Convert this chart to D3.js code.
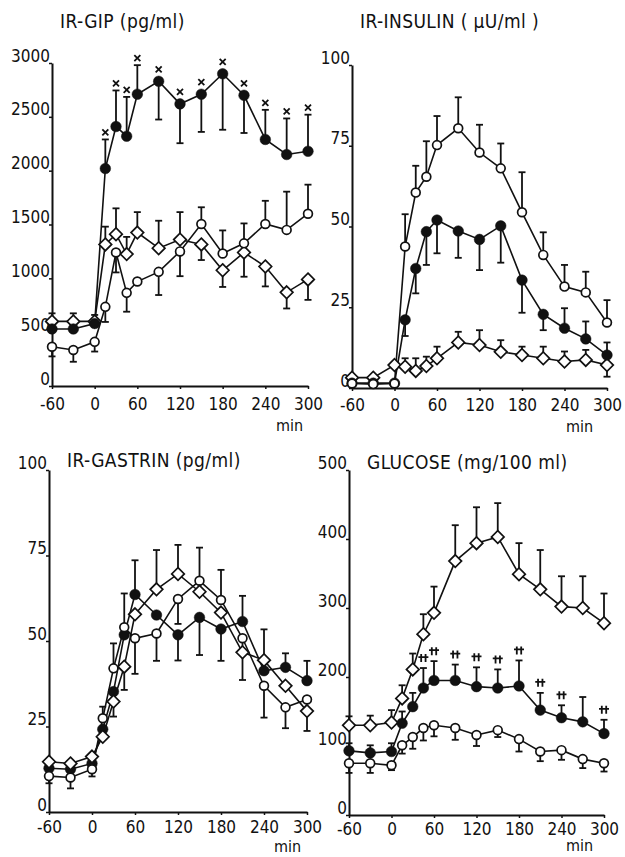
<!DOCTYPE html>
<html>
<head>
<meta charset="utf-8">
<script src="https://cdn.jsdelivr.net/npm/d3@7"></script>
<style>
  body { margin: 0; background: #fff; }
  svg text {
    font-family: "DejaVu Sans Condensed", "DejaVu Sans", sans-serif;
    fill: #111;
  }
</style>
</head>
<body>
<div id="wrapper"></div>
<script>
// sampling times (min)
const times = [-60, -30, 0, 15, 30, 45, 60, 90, 120, 150, 180, 210, 240, 270, 300];
const xTicks = [-60, 0, 60, 120, 180, 240, 300];

// IR-GIP (pg/ml); err > 0 = bar drawn upward, err < 0 = bar drawn downward
const gipFilled = [530, 530, 580, 2020, 2410, 2320, 2710, 2830, 2620, 2710, 2900, 2700, 2290, 2150, 2180];
const gipFilledErr = [0, 0, 0, 270, 335, 365, 270, -355, -365, -350, -520, -350, 275, 335, 340];
const gipOpen = [365, 335, 410, 735, 1240, 865, 970, 1060, 1250, 1505, 1230, 1325, 1505, 1450, 1600];
const gipOpenErr = [-90, -110, -90, -140, -185, -175, 0, -215, -230, 155, 215, 185, 215, 355, 270];
const gipDiamond = [600, 600, 600, 1315, 1410, 1225, 1425, 1280, 1360, 1315, 1075, 1240, 1110, 870, 990];
const gipDiamondErr = [75, 75, 60, 165, 240, 160, 190, 255, 255, -145, -155, -225, -185, -150, -190];
const gipSignif = [15, 30, 45, 60, 90, 120, 150, 180, 210, 240, 270, 300];
const gipTicks = [0, 500, 1000, 1500, 2000, 2500, 3000];

// IR-INSULIN (µU/ml)
const insOpen = [1.4, 1.2, 1.4, 43.8, 60.5, 65.4, 75.2, 80.4, 72.9, 68.0, 54.4, 41.2, 31.4, 29.6, 20.3];
const insOpenErr = [0, 0, 0, 10, 8.3, 11, 9, 9.6, 8.6, 7.7, 12.4, 7, 6.7, 6.4, 6.9];
const insFilled = [1.5, 1.5, 1.5, 21.1, 37, 48.4, 52, 48.6, 46, 50.2, 33.4, 22.8, 18.5, 15.2, 10.2];
const insFilledErr = [0, 0, 0, -5, -7.7, -10.3, -10.3, -8.3, -9.5, -11.4, -10.1, -4.9, 6.2, 5.4, 3.9];
const insDiamond = [3.2, 3.2, 7.1, 6.6, 5.3, 6.8, 9.2, 14.1, 13.3, 11.2, 10.2, 9.2, 8.2, 8.7, 7.1];
const insDiamondErr = [0, 0, 0, 2.6, 3.9, 2.9, 3.6, 3.3, 4.6, 3.6, 2.6, 3.6, 3.1, 3.1, -3.6];
const insTicks = [0, 25, 50, 75, 100];

// IR-GASTRIN (pg/ml)
const gasFilled = [12.8, 12.5, 14.2, 24.2, 35.2, 51.8, 63.6, 57.6, 51.8, 56.9, 53.5, 55.7, 41.3, 42.3, 38.4];
const gasFilledErr = [0, 0, 0, 0, 0, 0, 10, 0, -7.5, -11, -9.3, 7.5, 0, 4.1, 5.8];
const gasOpen = [10.5, 10.1, 12.5, 27.4, 42, 54, 50.8, 52.2, 62.3, 67.6, 62, 50.8, 36.9, 30.6, 32.9];
const gasOpenErr = [-2.1, -3.2, -2.1, 3.4, 7.3, 9.9, -10.4, -8, -7.3, 9.7, 8.8, -12.2, -9.3, -6.1, 0];
const gasDiamond = [14.7, 14.2, 16.2, 22, 32.3, 42.5, 57.8, 65.1, 69.6, 64.4, 58.3, 46.7, 44.4, 36.9, 29.5];
const gasDiamondErr = [0, 0, 0, 0, -4.4, -6.8, 0, 11.5, 8.5, 0, 0, 0, 9, 0, -5.8];
const gasTicks = [0, 25, 50, 75, 100];

// GLUCOSE (mg/100 ml)
const gluDiamond = [130, 130, 134, 169, 211, 262, 293, 368, 394, 403, 349, 327, 302, 300, 278];
const gluDiamondErr = [13, 14, 18, 19, 23, 29, 38, 52, 52, 49, 45, 57, 44, 46, 43];
const gluFilled = [93, 90, 92, 133, 157, 184, 195, 195, 186, 184, 187, 152, 141, 135, 118];
const gluFilledErr = [11, 11, 12, 17, 20, 29, 28, 23, 28, 27, 37, 25, 18, 36, 20];
const gluOpen = [75, 75, 72, 101, 113, 126, 130, 126, 116, 123, 110, 92, 94, 81, 75];
const gluOpenErr = [-14, -14, -7, -12, -17, -18, -16, -17, -16, -10, -18, -14, -14, -13, -12];
const gluSignif = [45, 60, 90, 120, 150, 180, 210, 240, 300];
const gluTicks = [0, 100, 200, 300, 400, 500];

function drawFigure() {
  const svg = d3
    .select("#wrapper")
    .append("svg")
    .attr("width", 625)
    .attr("height", 857);

  const panels = [
    {
      title: "IR-GIP (pg/ml)",
      max: 3000,
      ticks: gipTicks,
      box: { left: 52, right: 308, top: 63, bottom: 386 },
      titlePos: [60, 28],
      xLabelY: 24,
      minPos: [276, 431],
      series: [
        { type: "diamond", values: gipDiamond, err: gipDiamondErr },
        { type: "open", values: gipOpen, err: gipOpenErr },
        { type: "filled", values: gipFilled, err: gipFilledErr },
      ],
      signif: { mark: "cross", values: gipFilled, err: gipFilledErr, at: gipSignif },
    },
    {
      title: "IR-INSULIN ( \u03bcU/ml )",
      max: 100,
      ticks: insTicks,
      box: { left: 352, right: 607, top: 65, bottom: 388 },
      titlePos: [360, 28],
      xLabelY: 23,
      minPos: [566, 432],
      series: [
        { type: "diamond", values: insDiamond, err: insDiamondErr },
        { type: "filled", values: insFilled, err: insFilledErr },
        { type: "open", values: insOpen, err: insOpenErr },
      ],
    },
    {
      title: "IR-GASTRIN (pg/ml)",
      max: 100,
      ticks: gasTicks,
      box: { left: 49, right: 307, top: 470, bottom: 812 },
      titlePos: [67, 467],
      xLabelY: 21,
      minPos: [274, 852],
      series: [
        { type: "filled", values: gasFilled, err: gasFilledErr },
        { type: "open", values: gasOpen, err: gasOpenErr },
        { type: "diamond", values: gasDiamond, err: gasDiamondErr },
      ],
    },
    {
      title: "GLUCOSE (mg/100 ml)",
      max: 500,
      ticks: gluTicks,
      box: { left: 349, right: 604, top: 470, bottom: 815 },
      titlePos: [367, 469],
      xLabelY: 20,
      minPos: [566, 851],
      series: [
        { type: "diamond", values: gluDiamond, err: gluDiamondErr },
        { type: "open", values: gluOpen, err: gluOpenErr },
        { type: "filled", values: gluFilled, err: gluFilledErr },
      ],
      signif: { mark: "dagger", values: gluFilled, err: gluFilledErr, at: gluSignif },
    },
  ];

  panels.forEach((panel) => drawPanel(svg, panel));
}

function drawPanel(svg, panel) {
  const { box } = panel;
  const g = svg.append("g");

  const x = d3.scaleLinear().domain([-60, 300]).range([box.left, box.right]);
  const y = d3.scaleLinear().domain([0, panel.max]).range([box.bottom, box.top]);

  // axes
  const yAxis = g
    .append("g")
    .attr("transform", `translate(${box.left},0)`)
    .call(
      d3
        .axisLeft(y)
        .tickValues(panel.ticks)
        .tickSizeInner(3)
        .tickSizeOuter(0)
        .tickPadding(-1)
        .tickFormat((d) => String(d))
    );
  yAxis.selectAll("text").attr("dy", -2).style("font-size", "17px");

  const xAxis = g
    .append("g")
    .attr("transform", `translate(0,${box.bottom})`)
    .call(
      d3
        .axisBottom(x)
        .tickValues(xTicks)
        .tickSizeInner(3)
        .tickSizeOuter(0)
        .tickFormat((d) => String(d))
    );
  xAxis
    .selectAll("text")
    .attr("y", panel.xLabelY)
    .attr("dy", 0)
    .style("font-size", "17px");

  g.selectAll(".domain").attr("stroke", "#111").attr("stroke-width", 2);
  g.selectAll(".tick line").attr("stroke", "#111").attr("stroke-width", 1.5);
  g.selectAll(".tick text").attr("fill", "#111");

  g.append("text")
    .attr("x", panel.titlePos[0])
    .attr("y", panel.titlePos[1])
    .style("font-size", "19px")
    .style("letter-spacing", "0.4px")
    .text(panel.title);

  g.append("text")
    .attr("x", panel.minPos[0])
    .attr("y", panel.minPos[1])
    .style("font-size", "16px")
    .text("min");

  const line = d3
    .line()
    .x((_, i) => x(times[i]))
    .y((d) => y(d));

  // error bars
  panel.series.forEach((s) => {
    const bars = g
      .append("g")
      .attr("stroke", "#111")
      .attr("stroke-width", 1.8)
      .selectAll("g")
      .data(s.values.map((v, i) => ({ t: times[i], v, e: s.err[i] })).filter((d) => d.e !== 0))
      .enter()
      .append("g");
    bars
      .append("line")
      .attr("x1", (d) => x(d.t))
      .attr("x2", (d) => x(d.t))
      .attr("y1", (d) => y(d.v))
      .attr("y2", (d) => y(d.v + d.e));
    bars
      .append("line")
      .attr("x1", (d) => x(d.t) - 3.5)
      .attr("x2", (d) => x(d.t) + 3.5)
      .attr("y1", (d) => y(d.v + d.e))
      .attr("y2", (d) => y(d.v + d.e));
  });

  // connecting lines
  panel.series.forEach((s) => {
    g.append("path")
      .datum(s.values)
      .attr("fill", "none")
      .attr("stroke", "#111")
      .attr("stroke-width", 1.6)
      .attr("d", line);
  });

  // markers
  panel.series.forEach((s) => {
    const marks = g
      .append("g")
      .selectAll("path")
      .data(s.values)
      .enter();
    if (s.type === "diamond") {
      marks
        .append("path")
        .attr("d", (d, i) => {
          const cx = x(times[i]);
          const cy = y(d);
          const r = 6.3;
          return `M${cx},${cy - r}L${cx + r},${cy}L${cx},${cy + r}L${cx - r},${cy}Z`;
        })
        .attr("fill", "#fff")
        .attr("stroke", "#111")
        .attr("stroke-width", 1.7);
    } else {
      marks
        .append("circle")
        .attr("cx", (_, i) => x(times[i]))
        .attr("cy", (d) => y(d))
        .attr("r", s.type === "filled" ? 5.3 : 4.4)
        .attr("fill", s.type === "filled" ? "#111" : "#fff")
        .attr("stroke", "#111")
        .attr("stroke-width", s.type === "filled" ? 0.5 : 1.7);
    }
  });

  // significance marks above the filled series
  if (panel.signif) {
    const sig = panel.signif;
    const pts = sig.at.map((t) => {
      const i = times.indexOf(t);
      const top = Math.min(y(sig.values[i]) - 5, y(sig.values[i] + Math.max(sig.err[i], 0)));
      return { cx: x(t), cy: top - (sig.mark === "cross" ? 7 : 10) };
    });
    const marks = g
      .append("g")
      .attr("stroke", "#111")
      .attr("stroke-width", 1.8)
      .attr("fill", "none")
      .selectAll("path")
      .data(pts)
      .enter()
      .append("path");
    if (sig.mark === "cross") {
      marks.attr(
        "d",
        (d) =>
          `M${d.cx - 3},${d.cy - 3}L${d.cx + 3},${d.cy + 3}M${d.cx + 3},${d.cy - 3}L${d.cx - 3},${d.cy + 3}`
      );
    } else {
      marks.attr(
        "d",
        (d) =>
          `M${d.cx - 5},${d.cy - 1}L${d.cx + 5},${d.cy - 1}` +
          `M${d.cx - 2.2},${d.cy - 4}L${d.cx - 2.2},${d.cy + 4}` +
          `M${d.cx + 2.2},${d.cy - 4}L${d.cx + 2.2},${d.cy + 4}`
      );
    }
  }
}

drawFigure();
</script>
</body>
</html>
